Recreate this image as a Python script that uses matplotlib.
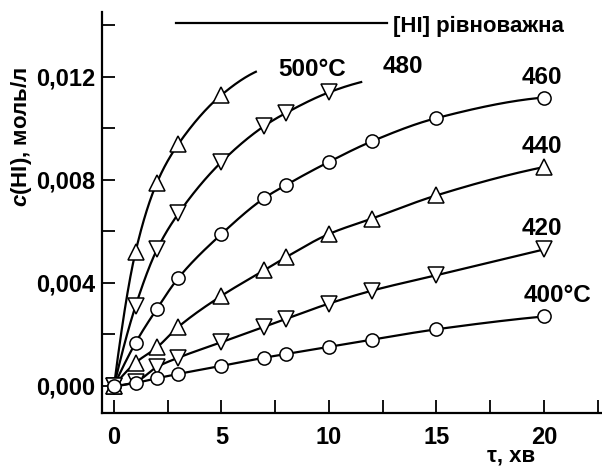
import numpy as np
import matplotlib
matplotlib.use("Agg")
import matplotlib.pyplot as plt
from matplotlib.ticker import MultipleLocator, FuncFormatter

plt.rcParams['font.family'] = ['Liberation Sans', 'DejaVu Sans']
plt.rcParams['font.weight'] = 'bold'
plt.rcParams['mathtext.fontset'] = 'custom'
plt.rcParams['mathtext.it'] = 'Liberation Sans:italic:bold'
plt.rcParams['mathtext.rm'] = 'Liberation Sans:bold'

# time, min
t_short = [0, 1, 2, 3, 5]
t_mid = [0, 1, 2, 3, 5, 7, 8, 10]
t_long = [0, 1, 2, 3, 5, 7, 8, 10, 12, 15, 20]

# c(HI), mol/l
c500 = [0, 0.0052, 0.0079, 0.0094, 0.0113]
c480 = [0, 0.0031, 0.0053, 0.0067, 0.0087, 0.0101, 0.0106, 0.0114]
c460 = [0, 0.00167, 0.0030, 0.0042, 0.0059, 0.0073, 0.0078, 0.0087, 0.0095, 0.0104, 0.0112]
c440 = [0, 0.0009, 0.0015, 0.0023, 0.0035, 0.0045, 0.0050, 0.0059, 0.0065, 0.0074, 0.0085]
c420 = [0, 0.00016, 0.00074, 0.0011, 0.0017, 0.0023, 0.0026, 0.0032, 0.0037, 0.0043, 0.0053]
c400 = [0, 0.00012, 0.0003, 0.00047, 0.00078, 0.0011, 0.00124, 0.00152, 0.0018, 0.0022, 0.0027]

# where the drawn curves for 500 and 480 end (past the last point)
end500 = (6.6, 0.0122)
end480 = (11.5, 0.0118)

eq_level = 0.0141
eq_x = [2.9, 12.7]

labels = ['500°C', '480', '460', '440', '420', '400°C']


def pchip(x, y, xs):
    x = np.asarray(x, float)
    y = np.asarray(y, float)
    h = np.diff(x)
    d = np.diff(y) / h
    n = len(x)
    m = np.zeros(n)
    for k in range(1, n - 1):
        if d[k - 1] * d[k] > 0:
            w1 = 2 * h[k] + h[k - 1]
            w2 = h[k] + 2 * h[k - 1]
            m[k] = (w1 + w2) / (w1 / d[k - 1] + w2 / d[k])
    m[0] = ((2 * h[0] + h[1]) * d[0] - h[0] * d[1]) / (h[0] + h[1])
    if np.sign(m[0]) != np.sign(d[0]):
        m[0] = 0
    elif np.sign(d[0]) != np.sign(d[1]) and abs(m[0]) > abs(3 * d[0]):
        m[0] = 3 * d[0]
    m[-1] = ((2 * h[-1] + h[-2]) * d[-1] - h[-1] * d[-2]) / (h[-1] + h[-2])
    if np.sign(m[-1]) != np.sign(d[-1]):
        m[-1] = 0
    idx = np.clip(np.searchsorted(x, xs) - 1, 0, n - 2)
    hh = h[idx]
    s = (xs - x[idx]) / hh
    h00 = 2 * s**3 - 3 * s**2 + 1
    h10 = s**3 - 2 * s**2 + s
    h01 = -2 * s**3 + 3 * s**2
    h11 = s**3 - s**2
    return h00 * y[idx] + h10 * hh * m[idx] + h01 * y[idx + 1] + h11 * hh * m[idx + 1]


fig = plt.figure(figsize=(6.02, 4.73), dpi=100)
ax = fig.add_axes([0.1694, 0.1268, 0.8286, 0.8478])

series = [
    (t_short, c500, '^', end500),
    (t_mid, c480, 'v', end480),
    (t_long, c460, 'o', None),
    (t_long, c440, '^', None),
    (t_long, c420, 'v', None),
    (t_long, c400, 'o', None),
]

for t, c, mk, end in series:
    tx = list(t)
    cy = list(c)
    if end is not None:
        tx.append(end[0])
        cy.append(end[1])
    xs = np.linspace(tx[0], tx[-1], 400)
    ax.plot(xs, pchip(tx, cy, xs), color='black', lw=1.6, zorder=2)
    ms = 11 if mk != 'o' else 9.5
    ax.plot(t, c, linestyle='none', marker=mk, ms=ms, mfc='white',
            mec='black', mew=1.1, zorder=3, clip_on=False)

ax.plot(eq_x, [eq_level, eq_level], color='black', lw=1.6)
ax.text(12.98, 0.01394, '[HI] рівноважна', fontsize=16, va='center', ha='left')

label_pos = [(7.66, 0.01227), (12.5, 0.01239), (18.98, 0.01196),
             (18.98, 0.00928), (18.98, 0.0061), (19.07, 0.00353)]
for (lx, ly), lab in zip(label_pos, labels):
    ax.text(lx, ly, lab, fontsize=17.5, va='center', ha='left')

ax.set_xlim(-0.56, 22.65)
ax.set_ylim(-0.00105, 0.01452)

ax.xaxis.set_major_locator(MultipleLocator(2.5))
ax.yaxis.set_major_locator(MultipleLocator(0.002))
ax.xaxis.set_major_formatter(FuncFormatter(
    lambda v, p: '%d' % round(v) if abs(v / 5 - round(v / 5)) < 1e-6 else ''))
ax.yaxis.set_major_formatter(FuncFormatter(
    lambda v, p: ('%.3f' % v).replace('.', ',') if abs(v / 0.004 - round(v / 0.004)) < 1e-6 else ''))

ax.tick_params(direction='in', length=9.5, width=1.3, labelsize=17, pad=5)
ax.tick_params(axis='x', pad=9)

for side in ['top', 'right']:
    ax.spines[side].set_visible(False)
for side in ['left', 'bottom']:
    ax.spines[side].set_linewidth(1.6)

fig.text(21 / 602, 1 - 137 / 473, r'$\mathit{c}$(HI), моль/л', rotation=90,
         fontsize=16, ha='center', va='center')
fig.text(511 / 602, 1 - 456 / 473, 'τ, хв', fontsize=16, ha='center', va='center')

fig.savefig('out.png', dpi=100)
